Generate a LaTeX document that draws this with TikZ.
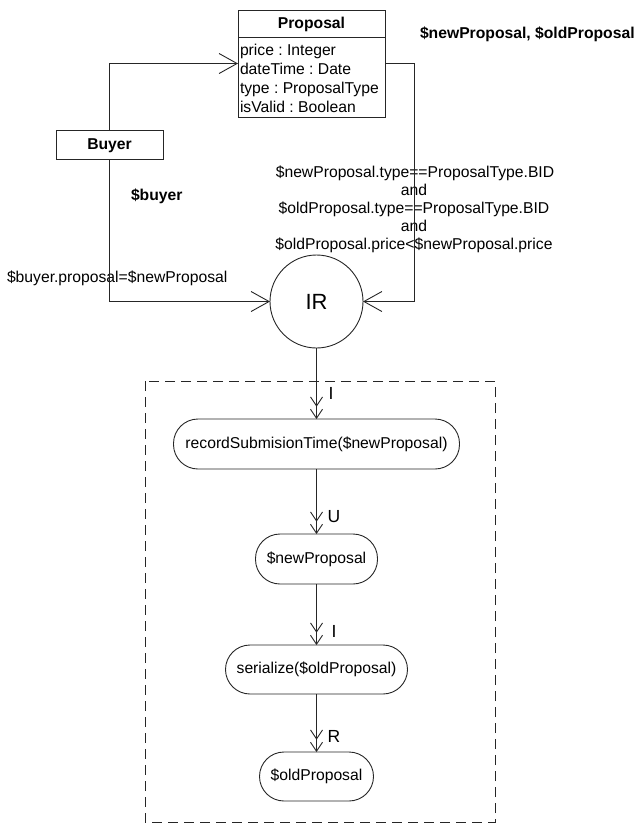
\documentclass[tikz,border=0pt]{standalone}
\usepackage{fontspec}
\setmainfont{Liberation Sans}
\usetikzlibrary{arrows.meta}
\frenchspacing

\begin{document}
\begin{tikzpicture}[x=1pt,y=-1pt,
  line width=0.9pt,
  every node/.style={inner sep=0pt,outer sep=0pt,font=\fontsize{15.7}{19}\selectfont},
  ln/.style={draw=black!85},
  box/.style={draw=black!85,rectangle},
  title/.style={font=\fontsize{15.7}{19}\selectfont\bfseries},
  txt/.style={anchor=base west},
  cond/.style={anchor=base},
  flowbox/.style={draw=black!85,rectangle,rounded corners=24.5pt,minimum height=50pt},
  lbl/.style={font=\fontsize{17.5}{20}\selectfont},
  bigv/.style={ln,-{Straight Barb[length=18pt,width=20pt]}},
  dblv/.style={ln,-{Straight Barb[length=9pt,width=12pt,sep=2pt]Straight Barb[length=9pt,width=12pt]}}
]
\useasboundingbox (0,0) rectangle (638,823);

% class boxes
\node[box,minimum width=147pt,minimum height=107pt] (prop) at (311.5,63.5) {};
\draw[ln] (prop.west |- 0,37) -- (prop.east |- 0,37);
\node[title,anchor=base] (ptitle) at (311.5,28) {Proposal};
\node[txt] (a1) at (240,55.5) {price : Integer};
\node[txt] (a2) at (240,74.5) {dateTime : Date};
\node[txt] (a3) at (240,93.5) {type : ProposalType};
\node[txt] (a4) at (240,112) {isValid : Boolean};

\node[box,minimum width=107pt,minimum height=29pt] (buyer) at (109.5,144.5) {};
\node[title,anchor=base] (btitle) at (109.5,149.5) {Buyer};

% rule node
\node[draw=black!85,circle,minimum size=93pt,font=\fontsize{22}{26}\selectfont] (ir) at (316.5,301.5) {IR};

% variable and condition labels
\node[title,txt] (vars) at (420,38.5) {\$newProposal, \$oldProposal};
\node[title,txt] (vbuyer) at (131,200) {\$buyer};
\node[txt] (bcond) at (7,282.7) {\$buyer.proposal=\$newProposal};
\node[cond] (c1) at (415,177.5) {\$newProposal.type==ProposalType.BID};
\node[cond] (c2) at (414,195.4) {and};
\node[cond] (c3) at (414,213.3) {\$oldProposal.type==ProposalType.BID};
\node[cond] (c4) at (414,231.2) {and};
\node[cond] (c5) at (414,249.1) {\$oldProposal.price<\$newProposal.price};

% connectors into the rule
\coordinate (rx) at (414,0);
\draw[bigv] (buyer.north) |- (prop.west);
\draw[bigv] (prop.east) -- (prop.east -| rx) |- (ir.east);
\draw[bigv] (buyer.south) |- (ir.west);

% action block
\draw[ln,dash pattern=on 10pt off 6pt] (145,381) rectangle (495,822);

\node[flowbox,minimum width=286pt] (rec) at (316.5,444) {recordSubmisionTime(\$newProposal)};
\node[flowbox,minimum width=122pt] (newp) at (316.5,559) {\$newProposal};
\node[flowbox,minimum width=182pt,minimum height=49pt] (ser) at (316.5,669.5) {serialize(\$oldProposal)};
\node[flowbox,minimum width=114pt,minimum height=49pt] (oldp) at (316.5,776.5) {\$oldProposal};

\draw[dblv] (ir.south) -- (rec.north);
\draw[dblv] (rec.south) -- (newp.north);
\draw[dblv] (newp.south) -- (ser.north);
\draw[dblv] (ser.south) -- (oldp.north);

\node[lbl] (l1) at (331,393) {I};
\node[lbl] (l2) at (334,517) {U};
\node[lbl] (l3) at (334,631) {I};
\node[lbl] (l4) at (334,736) {R};
\end{tikzpicture}
\end{document}
